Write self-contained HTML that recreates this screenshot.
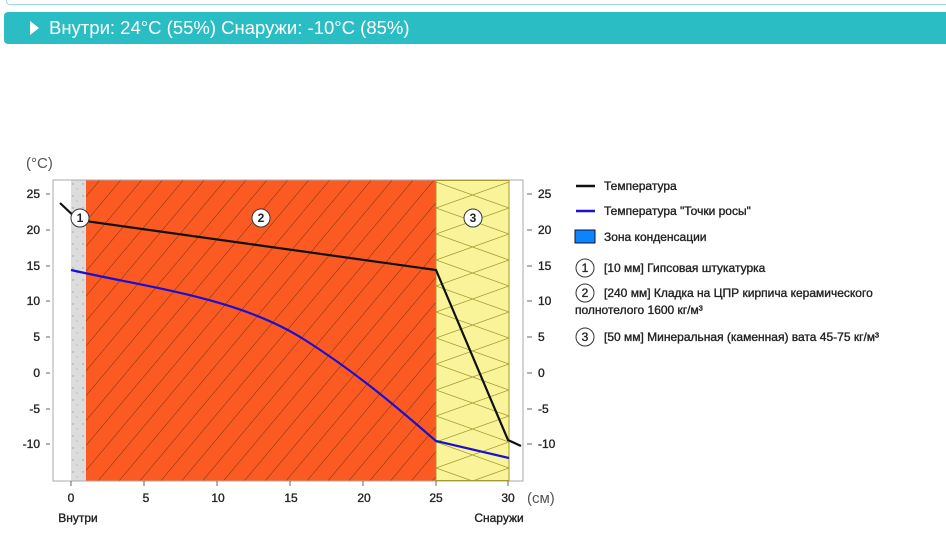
<!DOCTYPE html>
<html><head><meta charset="utf-8"><style>
body{margin:0;width:946px;height:548px;background:#fff;overflow:hidden;font-family:"Liberation Sans",Arial,sans-serif;}
.top{position:absolute;left:6px;top:0;width:950px;height:4px;border:1px solid #9fd6da;border-top:none;border-radius:0 0 4px 4px;}
.bar{position:absolute;left:4px;top:12px;width:950px;height:32px;background:#2bbdc4;border-radius:4px;color:#fff;font-size:18.5px;line-height:32px;}
.bar span{position:absolute;left:45px;}
.tri{position:absolute;left:26px;top:9px;width:0;height:0;border-left:9px solid #fff;border-top:7px solid transparent;border-bottom:7px solid transparent;}
</style></head><body>
<div class="top"></div>
<div class="bar"><div class="tri"></div><span>Внутри: 24°C (55%) Снаружи: -10°C (85%)</span></div>
<svg width="946" height="548" style="position:absolute;left:0;top:0" font-family="Liberation Sans, Arial, sans-serif">
<defs>
<pattern id="h" patternUnits="userSpaceOnUse" width="16" height="16" patternTransform="rotate(40)">
<rect width="16" height="16" fill="#fb5b22"/><line x1="0" y1="0" x2="0" y2="16" stroke="#7a3010" stroke-width="1"/></pattern>
<pattern id="d" patternUnits="userSpaceOnUse" width="10" height="12"><rect width="10" height="12" fill="#dcdcdc"/><circle cx="3" cy="4" r="0.7" fill="#999"/><circle cx="7" cy="9" r="0.6" fill="#aaa"/></pattern>
<clipPath id="w"><rect x="436" y="180" width="73" height="301"/></clipPath>
</defs>
<text x="26" y="168" font-size="15" fill="#555">(°C)</text>
<rect x="53" y="180" width="470" height="301" fill="#fff" stroke="#aaa"/>
<rect x="71" y="180.5" width="15" height="300" fill="url(#d)"/>
<rect x="86" y="180.5" width="350" height="300" fill="url(#h)"/>
<rect x="436" y="180.5" width="73" height="300" fill="#f9f49a" stroke="#a59a30" stroke-width="1"/>
<g clip-path="url(#w)" stroke="#a59a30" fill="none" stroke-width="0.8">
<path d="M436 182 L509 208 L436 234 L509 260 L436 286 L509 312 L436 338 L509 364 L436 390 L509 416 L436 442 L509 468 L436 494"/>
<path d="M509 182 L436 208 L509 234 L436 260 L509 286 L436 312 L509 338 L436 364 L509 390 L436 416 L509 442 L436 468 L509 494"/>
</g>
<g font-size="12" fill="#222" stroke="#222" stroke-width="0.35" text-anchor="end">
<text x="40" y="198">25</text><text x="40" y="234">20</text><text x="40" y="270">15</text><text x="40" y="305">10</text><text x="40" y="341">5</text><text x="40" y="377">0</text><text x="40" y="413">-5</text><text x="40" y="448">-10</text>
</g>
<g stroke="#666"><line x1="46" y1="194" x2="50" y2="194"/><line x1="46" y1="230" x2="50" y2="230"/><line x1="46" y1="266" x2="50" y2="266"/><line x1="46" y1="301" x2="50" y2="301"/><line x1="46" y1="337" x2="50" y2="337"/><line x1="46" y1="373" x2="50" y2="373"/><line x1="46" y1="409" x2="50" y2="409"/><line x1="46" y1="444" x2="50" y2="444"/>
<line x1="527" y1="194" x2="532" y2="194"/><line x1="527" y1="230" x2="532" y2="230"/><line x1="527" y1="266" x2="532" y2="266"/><line x1="527" y1="301" x2="532" y2="301"/><line x1="527" y1="337" x2="532" y2="337"/><line x1="527" y1="373" x2="532" y2="373"/><line x1="527" y1="409" x2="532" y2="409"/><line x1="527" y1="444" x2="532" y2="444"/>
<line x1="71" y1="481" x2="71" y2="486"/><line x1="144" y1="481" x2="144" y2="486"/><line x1="217" y1="481" x2="217" y2="486"/><line x1="290" y1="481" x2="290" y2="486"/><line x1="363" y1="481" x2="363" y2="486"/><line x1="436" y1="481" x2="436" y2="486"/><line x1="508" y1="481" x2="508" y2="486"/></g>
<g font-size="12" fill="#222" stroke="#222" stroke-width="0.35">
<text x="538" y="198">25</text><text x="538" y="234">20</text><text x="538" y="270">15</text><text x="538" y="305">10</text><text x="538" y="341">5</text><text x="538" y="377">0</text><text x="538" y="413">-5</text><text x="538" y="448">-10</text>
</g>
<g font-size="12" fill="#222" stroke="#222" stroke-width="0.35" text-anchor="middle">
<text x="71" y="502">0</text><text x="146" y="502">5</text><text x="218" y="502">10</text><text x="291" y="502">15</text><text x="364" y="502">20</text><text x="436" y="502">25</text><text x="508" y="502">30</text>
<text x="78" y="522">Внутри</text><text x="499" y="522">Снаружи</text>
</g>
<text x="527" y="503" font-size="15" fill="#555">(см)</text>
<path d="M71 270 C150 288 240 298 305 340 C360 375 400 410 436 441 L509 458" fill="none" stroke="#1a10d0" stroke-width="2.2"/>
<path d="M60 203 L78 220 L436 270 L508 440 L521 446" fill="none" stroke="#111" stroke-width="2.2"/>
<g font-size="12" font-weight="bold" fill="#222" text-anchor="middle">
<circle cx="80" cy="218" r="9" fill="#fff" stroke="#333"/><text x="80" y="222">1</text>
<circle cx="261" cy="218" r="9" fill="#fff" stroke="#333"/><text x="261" y="222">2</text>
<circle cx="473" cy="218" r="9" fill="#fff" stroke="#333"/><text x="473" y="222">3</text>
</g>
<g font-size="12" fill="#222" stroke="#222" stroke-width="0.35">
<line x1="576" y1="186" x2="595" y2="186" stroke="#111" stroke-width="2.5"/><text x="604" y="190">Температура</text>
<line x1="576" y1="211" x2="595" y2="211" stroke="#1a10d0" stroke-width="2.5"/><text x="604" y="215">Температура "Точки росы"</text>
<rect x="575" y="230" width="20" height="13" fill="#0a84ff" stroke="#113" stroke-width="1"/><text x="604" y="241">Зона конденсации</text>
<circle cx="585" cy="268" r="9" fill="#fff" stroke="#333" stroke-width="1"/><text x="585" y="272" text-anchor="middle">1</text><text x="604" y="272">[10 мм] Гипсовая штукатурка</text>
<circle cx="585" cy="293" r="9" fill="#fff" stroke="#333" stroke-width="1"/><text x="585" y="297" text-anchor="middle">2</text><text x="604" y="297">[240 мм] Кладка на ЦПР кирпича керамического</text>
<text x="575" y="314">полнотелого 1600 кг/м³</text>
<circle cx="585" cy="337" r="9" fill="#fff" stroke="#333" stroke-width="1"/><text x="585" y="341" text-anchor="middle">3</text><text x="604" y="341">[50 мм] Минеральная (каменная) вата 45-75 кг/м³</text>
</g>
</svg>
</body></html>
